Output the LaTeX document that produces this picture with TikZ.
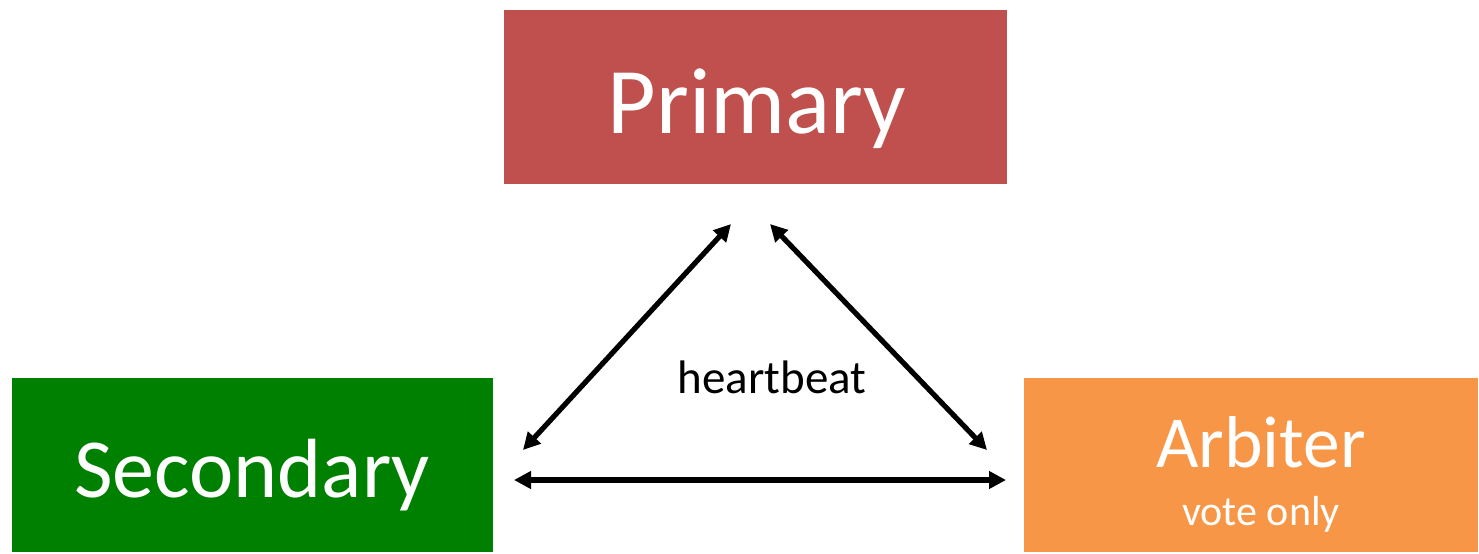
\documentclass[tikz,border=0pt]{standalone}
\usepackage{fontspec}
\setmainfont{Carlito}
\usetikzlibrary{arrows.meta}
\definecolor{prim}{HTML}{C0504D}
\definecolor{sec}{HTML}{008000}
\definecolor{arb}{HTML}{F79646}
\begin{document}
\begin{tikzpicture}[x=0.5pt,y=-0.5pt,
  box/.style={draw=none,inner sep=0,outer sep=0,minimum height=87pt},
  lbl/.style={anchor=base,inner sep=0,text=white},
  link/.style={line width=2.6pt,{Triangle[length=8.5pt,width=8.5pt]}-{Triangle[length=8.5pt,width=8.5pt]}}]
\useasboundingbox (0,0) rectangle (1479,553);
\node[box,fill=prim,minimum width=251.5pt] (P) at (755.5,97) {};
\node[box,fill=sec,minimum width=240.5pt] (S) at (252.5,465) {};
\node[box,fill=arb,minimum width=227pt] (A) at (1251,465) {};
\node[lbl,font=\fontsize{47}{56}\selectfont] (pt) at (757,133) {Primary};
\node[lbl,font=\fontsize{42}{50}\selectfont] (st) at (252,497) {Secondary};
\node[lbl,font=\fontsize{36.7}{44}\selectfont] (at) at (1261,467) {Arbiter};
\node[lbl,font=\fontsize{21}{25}\selectfont] (vt) at (1261,525) {vote only};
\node[anchor=base,inner sep=0,font=\fontsize{23.5}{28}\selectfont] (hb) at (772,393) {heartbeat};
\coordinate (l1) at (523,450);
\coordinate (l2) at (731,224);
\coordinate (r1) at (770,224);
\coordinate (r2) at (987,450);
\coordinate (h1) at (514,480);
\coordinate (h2) at (1006,480);
\draw[link] (l1) -- (l2);
\draw[link] (r1) -- (r2);
\draw[link] (h1) -- (h2);
\end{tikzpicture}
\end{document}
